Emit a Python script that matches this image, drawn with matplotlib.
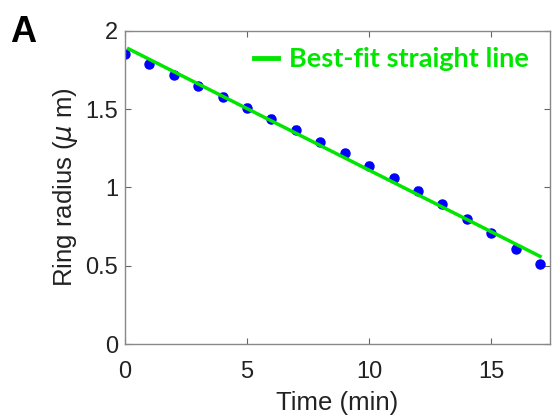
import matplotlib
matplotlib.use("Agg")
import matplotlib.pyplot as plt

# data ------------------------------------------------
time_min = [0, 1, 2, 3, 4, 5, 6, 7, 8, 9, 10, 11, 12, 13, 14, 15, 16, 17]
radius_um = [1.85, 1.79, 1.72, 1.65, 1.58, 1.51, 1.44, 1.37, 1.29, 1.22,
             1.14, 1.06, 0.98, 0.895, 0.80, 0.71, 0.61, 0.51]
radius_err = [0.02] * 18

fit_t = [0.15, 17]
fit_r = [1.885, 0.56]

x_ticks = [0, 5, 10, 15]
y_ticks = [0, 0.5, 1, 1.5, 2]

plt.rcParams['font.family'] = ['Liberation Sans', 'DejaVu Sans']

fig = plt.figure(figsize=(5.52, 4.17), dpi=100)
ax = fig.add_axes([0.2264, 0.175, 0.7696, 0.751])

ax.errorbar(time_min, radius_um, yerr=radius_err, fmt='o', color='#0000ff',
            ms=6.5, elinewidth=1.2, capsize=2, zorder=2)
fit_line, = ax.plot(fit_t, fit_r, color='#00e600', lw=2.5, zorder=3,
                    label='Best-fit straight line')

ax.set_xlim(0, 17.4)
ax.set_ylim(0, 2)
ax.set_xticks(x_ticks)
ax.set_yticks(y_ticks)
ax.set_xticklabels([str(v) for v in x_ticks])
ax.set_yticklabels(['0', '0.5', '1', '1.5', '2'])
ax.tick_params(direction='in', top=True, right=True, length=4, width=0.8,
               colors='#666666', labelcolor='#222222', labelsize=17)
ax.tick_params(axis='x', pad=12)
ax.tick_params(axis='y', pad=5)
for sp in ax.spines.values():
    sp.set_color('#888888')
    sp.set_linewidth(1.0)

ax.set_xlabel('Time (min)', fontsize=18.5, color='#222222', labelpad=6)
ax.set_ylabel(r'Ring radius ($\mu$ m)', fontsize=18.5, color='#222222', labelpad=4)

leg = ax.legend(handles=[fit_line], loc='upper right', frameon=False,
                handlelength=0.9, handletextpad=0.4, borderaxespad=0.3,
                bbox_to_anchor=(0.995, 1.008),
                prop={'family': 'Lato', 'weight': 'bold', 'size': 19.5})
for t in leg.get_texts():
    t.set_color('#00e600')
leg.get_lines()[0].set_linewidth(3.5)

fig.text(0.018, 0.965, 'A', fontsize=26, fontweight='bold', va='top', ha='left',
         color='black')

fig.savefig('out.png', dpi=100)
